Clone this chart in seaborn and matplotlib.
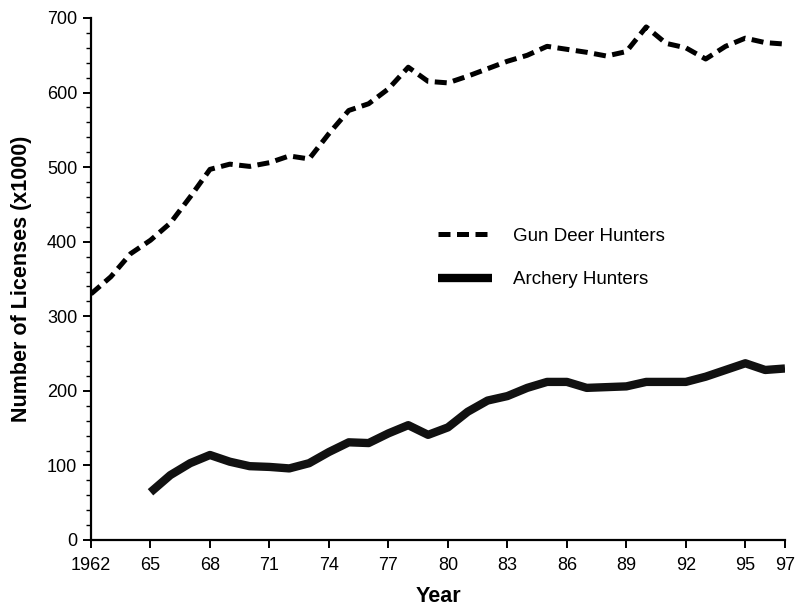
import matplotlib
matplotlib.use("Agg")
import matplotlib.pyplot as plt
import seaborn as sns
import pandas as pd
from matplotlib.ticker import MultipleLocator

gun_years = list(range(1962, 1998))
gun_values = [330, 353, 384, 402, 425, 460, 497, 504, 501, 506, 515, 511,
              545, 576, 585, 605, 634, 615, 613, 622, 632, 642, 650, 662,
              658, 654, 649, 655, 688, 666, 660, 645, 662, 673, 667, 665]

arch_years = list(range(1965, 1998))
arch_values = [64, 87, 103, 114, 105, 99, 98, 96, 103, 118, 131, 130, 143,
               154, 141, 151, 172, 187, 193, 204, 212, 212, 204, 205, 206,
               212, 212, 212, 219, 228, 237, 228, 230]

xtick_pos = [1962, 1965, 1968, 1971, 1974, 1977, 1980, 1983, 1986, 1989, 1992, 1995, 1997]
xtick_labels = ["1962", "65", "68", "71", "74", "77", "80", "83", "86", "89", "92", "95", "97"]

gun_label = "Gun Deer Hunters"
arch_label = "Archery Hunters"

sns.set_theme(style="ticks")
plt.rcParams["font.family"] = ["Liberation Sans", "DejaVu Sans"]
plt.rcParams["text.color"] = "black"
plt.rcParams["axes.labelcolor"] = "black"
plt.rcParams["xtick.color"] = "black"
plt.rcParams["ytick.color"] = "black"

fig = plt.figure(figsize=(8.06, 6.08), dpi=100)
ax = fig.add_axes([91 / 806, 68 / 608, 694 / 806, 522 / 608])

gun_df = pd.DataFrame({"Year": gun_years, "Licenses": gun_values})
arch_df = pd.DataFrame({"Year": arch_years, "Licenses": arch_values})

sns.lineplot(data=gun_df, x="Year", y="Licenses", ax=ax, color="black",
             linewidth=3.6, label=gun_label)
ax.lines[-1].set_dashes((2.4, 1.3))
ax.lines[-1].set_dash_capstyle("butt")
sns.lineplot(data=arch_df, x="Year", y="Licenses", ax=ax, color="#111111",
             linewidth=6.0, label=arch_label)
ax.lines[-1].set_solid_joinstyle("round")
ax.lines[-1].set_solid_capstyle("butt")

ax.set_xlim(1962, 1997)
ax.set_ylim(0, 700)
ax.set_xticks(xtick_pos)
ax.set_xticklabels(xtick_labels)
ax.yaxis.set_major_locator(MultipleLocator(100))
ax.yaxis.set_minor_locator(MultipleLocator(20))

sns.despine(ax=ax)
for s in ["left", "bottom"]:
    ax.spines[s].set_linewidth(1.6)
    ax.spines[s].set_color("black")

ax.tick_params(axis="both", which="major", direction="out", length=6,
               width=1.4, labelsize=13, colors="black", pad=6)
ax.tick_params(axis="y", which="major", pad=4)
ax.tick_params(axis="y", which="minor", direction="out", length=3.5, width=1.0,
               colors="black")

ax.set_xlabel("Year", fontsize=15.5, fontweight="bold", labelpad=9)
ax.set_ylabel("Number of Licenses (x1000)", fontsize=15.5, fontweight="bold")
ax.yaxis.set_label_coords(-0.085, 0.5)

leg = ax.legend(loc="center left", bbox_to_anchor=(0.5, 0.54), frameon=False,
                fontsize=13.5, handlelength=2.9, handletextpad=1.1,
                labelspacing=1.4, borderaxespad=0, borderpad=0)
for h in leg.get_lines():
    h.set_color("black")
for t in leg.get_texts():
    t.set_color("black")

fig.savefig("out.png", dpi=100, facecolor="white")
